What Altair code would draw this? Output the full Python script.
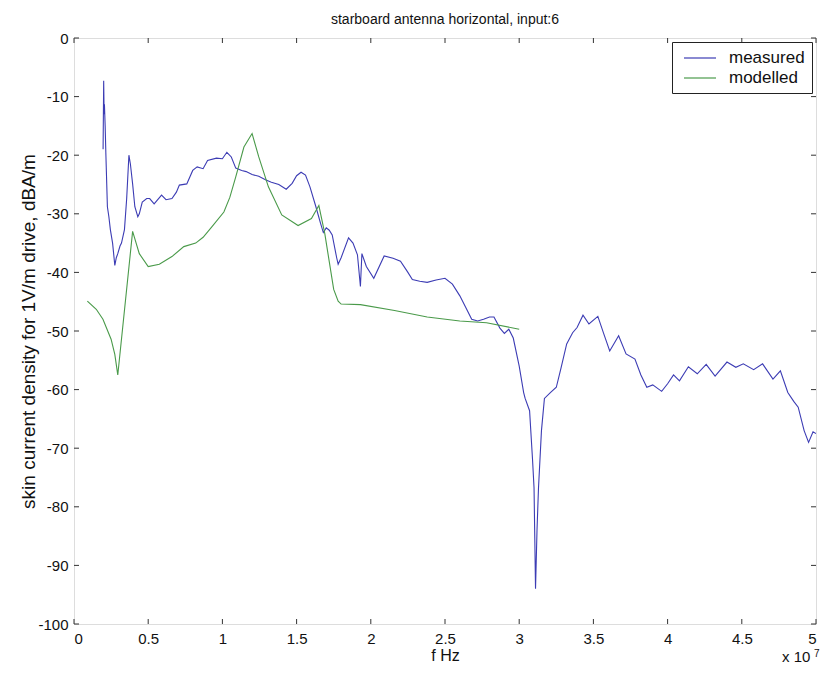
import altair as alt
import pandas as pd

# frequency in units of 1e7 Hz
f_meas = [0.196, 0.200, 0.203, 0.205, 0.210, 0.215, 0.225, 0.235, 0.245, 0.26, 0.275, 0.285, 0.295,
          0.31, 0.32, 0.34, 0.355, 0.37, 0.38, 0.395, 0.41, 0.43, 0.44, 0.46, 0.49, 0.51, 0.54, 0.59,
          0.62, 0.66, 0.69, 0.71, 0.76, 0.80, 0.83, 0.87, 0.90, 0.96, 1.00, 1.03, 1.06, 1.09, 1.13,
          1.16, 1.20, 1.245, 1.29, 1.33, 1.38, 1.43, 1.47, 1.50, 1.53, 1.56, 1.59, 1.63, 1.66, 1.68,
          1.70, 1.72, 1.74, 1.77, 1.78, 1.80, 1.85, 1.88, 1.91, 1.93, 1.94, 1.97, 2.02, 2.09, 2.15,
          2.20, 2.25, 2.28, 2.33, 2.38, 2.44, 2.50, 2.55, 2.60, 2.64, 2.68, 2.72, 2.76, 2.80, 2.83,
          2.87, 2.90, 2.93, 2.96, 3.00, 3.03, 3.04, 3.07, 3.09, 3.10, 3.105, 3.11, 3.12, 3.13, 3.15,
          3.17, 3.21, 3.25, 3.28, 3.32, 3.36, 3.39, 3.43, 3.47, 3.53, 3.57, 3.61, 3.67, 3.72, 3.78,
          3.82, 3.86, 3.90, 3.96, 4.00, 4.04, 4.08, 4.14, 4.20, 4.26, 4.32, 4.40, 4.46, 4.51, 4.58,
          4.64, 4.71, 4.76, 4.81, 4.85, 4.88, 4.92, 4.95, 4.98, 5.00]
v_meas = [-19.0, -7.3, -13.0, -11.3, -15.0, -20.0, -28.8, -30.5, -32.7, -35.0, -38.8, -37.5, -36.8,
          -35.5, -35.0, -32.7, -27.4, -20.0, -21.5, -24.9, -28.8, -30.5, -30.0, -28.0, -27.4, -27.4,
          -28.3, -26.8, -27.6, -27.4, -26.3, -25.1, -24.9, -22.6, -22.0, -22.3, -20.9, -20.5, -20.6,
          -19.5, -20.3, -22.2, -22.6, -22.8, -23.3, -23.6, -24.2, -24.6, -25.0, -25.8, -24.8, -23.5,
          -22.9, -23.4, -25.4, -28.8, -31.5, -33.2, -32.4, -32.8, -33.6, -37.5, -38.6, -37.5, -34.1,
          -35.0, -37.0, -42.4, -36.8, -39.0, -41.0, -37.2, -37.6, -38.1, -40.0, -41.2, -41.5, -41.7,
          -41.3, -41.0, -42.0, -44.0, -46.0, -48.0, -48.3, -48.0, -47.6, -47.6, -49.5, -50.4, -49.7,
          -51.2, -56.0, -60.5, -61.5, -63.6, -72.0, -76.8, -85.3, -94.0, -84.0, -76.8, -67.0, -61.5,
          -60.5, -59.6, -56.5, -52.2, -50.3, -49.4, -47.3, -48.8, -47.5, -50.5, -53.4, -50.8, -53.9,
          -54.8, -57.5, -59.6, -59.2, -60.3, -59.0, -57.5, -58.5, -56.1, -57.3, -55.7, -57.7, -55.3,
          -56.2, -55.6, -56.6, -55.6, -58.2, -56.8, -60.5, -62.0, -63.0, -67.0, -69.0, -67.2, -67.5]

f_model = [0.09, 0.15, 0.195, 0.25, 0.275, 0.295, 0.395, 0.44, 0.50, 0.575, 0.66, 0.74, 0.82, 0.87,
           0.93, 1.01, 1.05, 1.09, 1.145, 1.20, 1.245, 1.31, 1.40, 1.51, 1.60, 1.65, 1.69, 1.75,
           1.78, 1.80, 1.93, 2.16, 2.38, 2.60, 2.78, 3.00]
v_model = [-44.9, -46.3, -48.0, -51.4, -54.0, -57.5, -33.0, -36.8, -39.0, -38.6, -37.3, -35.6, -35.0,
           -34.0, -32.2, -29.7, -27.2, -23.7, -18.6, -16.3, -20.3, -25.4, -30.2, -32.0, -30.8, -28.6,
           -33.4, -42.9, -44.9, -45.4, -45.5, -46.5, -47.6, -48.3, -48.6, -49.7]

series_names = ["measured", "modelled"]
series_colors = ["#3c3cb4", "#4a9a4a"]
x_ticks = [0, 0.5, 1, 1.5, 2, 2.5, 3, 3.5, 4, 4.5, 5]
y_ticks = [-100, -90, -80, -70, -60, -50, -40, -30, -20, -10, 0]

W, H = 742, 586
FONT = "Liberation Sans"
TXT = "#111"

df = pd.concat([
    pd.DataFrame({"f": f_meas, "v": v_meas, "series": "measured", "i": range(len(f_meas))}),
    pd.DataFrame({"f": f_model, "v": v_model, "series": "modelled", "i": range(len(f_model))}),
])

xs = alt.Scale(domain=[0, 5], nice=False, zero=False)
ys = alt.Scale(domain=[-100, 0], nice=False, zero=False)

x_axis = alt.Axis(values=x_ticks, labelExpr="'' + datum.value", tickSize=0, domain=False,
                  grid=False, labelFontSize=15, labelPadding=7, titleFontSize=16,
                  titleFontWeight="normal", titleBaseline="alphabetic", titleY=36,
                  labelColor=TXT, titleColor=TXT, labelFont=FONT, titleFont=FONT)
y_axis = alt.Axis(values=y_ticks, labelExpr="'' + datum.value", tickSize=0, domain=False,
                  grid=False, labelFontSize=15, labelPadding=6, titleFontSize=19,
                  titleFontWeight="normal", titleX=-36, titleY=H / 2,
                  labelColor=TXT, titleColor=TXT, labelFont=FONT, titleFont=FONT)
X_TITLE = "f Hz"
Y_TITLE = "skin current density for 1V/m drive, dBA/m"

lines = alt.Chart(df).mark_line(strokeWidth=1.1, clip=True).encode(
    x=alt.X("f:Q", scale=xs, title=X_TITLE, axis=x_axis),
    y=alt.Y("v:Q", scale=ys, title=Y_TITLE, axis=y_axis),
    color=alt.Color("series:N", scale=alt.Scale(domain=series_names, range=series_colors),
                    legend=alt.Legend(title=None, orient="none", legendX=598, legendY=4,
                                      symbolType="M-0.5,0L3.5,0", symbolSize=256,
                                      symbolStrokeWidth=1.2,
                                      labelFontSize=17, labelFont=FONT, labelColor=TXT,
                                      strokeColor="#222", fillColor="white", padding=7,
                                      rowPadding=3, labelOffset=32)),
    order="i:Q",
)

xt = pd.DataFrame({"t": x_ticks})
yt = pd.DataFrame({"t": y_ticks})
tick_col = "#333"
bottom_t = alt.Chart(xt).mark_rule(color=tick_col).encode(
    x=alt.X("t:Q", scale=xs, title=X_TITLE, axis=x_axis), y=alt.value(H), y2=alt.value(H - 5))
top_t = alt.Chart(xt).mark_rule(color=tick_col).encode(
    x=alt.X("t:Q", scale=xs, title=X_TITLE, axis=x_axis), y=alt.value(0), y2=alt.value(5))
left_t = alt.Chart(yt).mark_rule(color=tick_col).encode(
    y=alt.Y("t:Q", scale=ys, title=Y_TITLE, axis=y_axis), x=alt.value(0), x2=alt.value(5))
right_t = alt.Chart(yt).mark_rule(color=tick_col).encode(
    y=alt.Y("t:Q", scale=ys, title=Y_TITLE, axis=y_axis), x=alt.value(W - 5), x2=alt.value(W))

exp_base = alt.Chart(pd.DataFrame({"s": ["x 10"]})).mark_text(
    align="left", baseline="alphabetic", fontSize=15, font=FONT, color=TXT).encode(
    text="s:N", x=alt.value(708), y=alt.value(624))
exp_sup = alt.Chart(pd.DataFrame({"s": ["7"]})).mark_text(
    align="left", baseline="alphabetic", fontSize=10, font=FONT, color=TXT).encode(
    text="s:N", x=alt.value(740), y=alt.value(619))

chart = alt.layer(lines, bottom_t, top_t, left_t, right_t, exp_base, exp_sup).properties(
    width=W, height=H,
    title=alt.Title("starboard antenna horizontal, input:6", fontSize=14, fontWeight="normal",
                    font=FONT, color=TXT, offset=4),
    autosize=alt.AutoSizeParams(type="none"),
    padding={"left": 66, "top": 30, "right": 4, "bottom": 40},
).configure_view(stroke="#333", strokeWidth=1).configure(background="white")

chart.save("out.html", embed_options={"renderer": "svg", "actions": False})
